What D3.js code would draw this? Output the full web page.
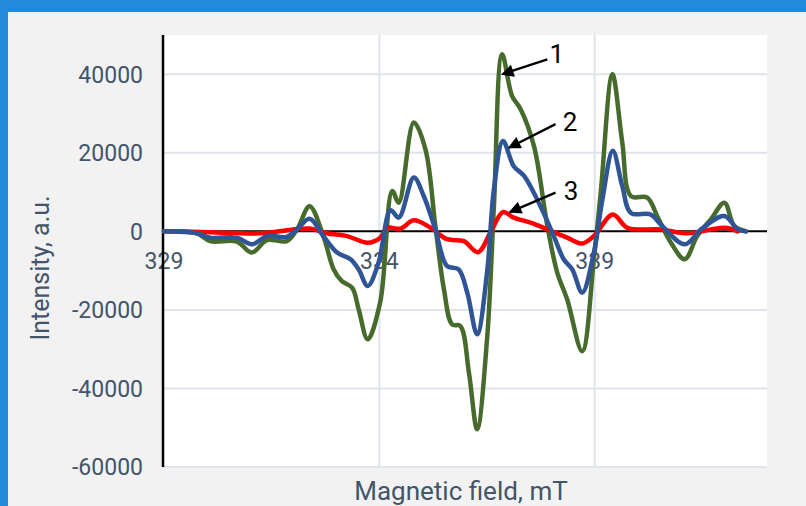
<!DOCTYPE html>
<html><head><meta charset="utf-8">
<script src="https://cdn.jsdelivr.net/npm/d3@7"></script>
<style>body{margin:0;background:#F2F2F2;}svg{display:block;font-family:Roboto,"Noto Sans",sans-serif;}</style>
</head><body><svg id="c" width="806" height="506"></svg>
<script>
// ---- data ----
const xTicks = [329, 334, 339];
const yTicks = [-60000, -40000, -20000, 0, 20000, 40000];

const fieldG = [329.00,329.76,330.07,330.69,331.04,331.39,331.85,332.09,332.38,332.70,332.94,333.13,333.37,333.52,333.73,334.02,334.30,334.45,334.80,335.07,335.30,335.50,335.69,335.88,336.08,336.27,336.50,336.66,336.85,337.08,337.28,337.59,337.90,338.13,338.36,338.71,338.98,339.14,339.41,339.64,339.84,340.22,340.45,340.77,341.09,341.38,341.70,342.01,342.24,342.51];
const intensityG = [0,-500,-2500,-2600,-5400,-2200,-2500,500,6400,-1200,-9700,-12700,-14400,-19900,-27500,-18000,10300,7300,27700,20900,1400,-14800,-23700,-24100,-36000,-50400,-27500,6400,45100,34500,31100,21700,1400,-10500,-17300,-30500,-7100,9900,40000,22600,9000,8600,3900,-2900,-7100,-1200,3100,7300,1400,0];

const fieldB = [329.00,329.76,330.07,330.69,331.04,331.39,331.85,332.09,332.38,332.70,333.02,333.33,333.52,333.73,333.98,334.26,334.45,334.80,335.03,335.30,335.57,335.84,336.04,336.27,336.50,336.66,336.87,337.12,337.36,337.74,338.05,338.28,338.48,338.71,338.98,339.18,339.42,339.64,339.84,340.30,340.53,341.09,341.47,342.01,342.32,342.51];
const intensityB = [0,-500,-1600,-1600,-3300,-1200,-1400,500,3200,-1200,-5400,-7100,-9700,-13900,-8000,5400,3500,13700,9000,500,-8800,-9700,-15600,-26200,-10500,10700,23000,16600,14100,6400,-1200,-7100,-9700,-15600,-5400,8200,20500,11500,4700,4300,1800,-3300,500,3900,500,0];

const fieldR = [329.00,330.07,331.23,332.38,332.78,333.25,333.73,334.02,334.18,334.49,334.80,335.19,335.57,335.96,336.29,336.58,336.87,337.12,337.51,337.90,338.36,338.71,338.98,339.42,339.76,340.53,341.15,342.01,342.32];
const intensityR = [0,-200,-500,700,-500,-1200,-2900,-1600,900,700,2800,900,-2000,-2500,-5300,-300,4900,3500,2200,500,-1600,-3100,-1200,4300,900,500,-500,900,0];

const labels = ["1","2","3"];
// annotation arrows: [field, intensity] of arrow tip, tail and label
const arrowTip = [[336.85,40000],[337.01,21300],[337.03,4900]];
const arrowTail = [[337.90,43800],[338.09,27300],[338.09,9860]];
const labelPos = [[338.12,45300],[338.43,28000],[338.45,10450]];

// ---- drawing ----
const svg = d3.select("#c");
const W = 806, H = 506;
svg.append("rect").attr("width", W).attr("height", H).attr("fill", "#F2F2F2");
svg.append("rect").attr("width", W).attr("height", 12).attr("fill", "#2389DB");
svg.append("rect").attr("width", 8).attr("height", H).attr("fill", "#2389DB");

const pL = 164, pR = 767, pT = 35, pB = 467;
const x = d3.scaleLinear().domain([329, 343]).range([pL, pR]);
const y = d3.scaleLinear().domain([-60000, 50000]).range([pB, pT]);

svg.append("rect").attr("x", pL).attr("y", pT).attr("width", pR - pL).attr("height", pB - pT).attr("fill", "#fff");

const grid = svg.append("g");
grid.append("g").selectAll("line").data(yTicks.filter(d => d !== 0)).join("line")
  .attr("x1", pL).attr("x2", pR).attr("y1", d => y(d)).attr("y2", d => y(d))
  .attr("stroke", "#DFE4EC").attr("stroke-width", 2);
grid.append("g").selectAll("line").data(xTicks.filter(d => d !== 329)).join("line")
  .attr("y1", pT).attr("y2", pB).attr("x1", d => x(d)).attr("x2", d => x(d))
  .attr("stroke", "#DFE4EC").attr("stroke-width", 2);

const tickColor = "#44546A";
svg.append("g").selectAll("text").data(yTicks).join("text")
  .attr("x", 143).attr("y", d => y(d)).attr("dy", "0.36em")
  .attr("text-anchor", "end").attr("font-size", 23).attr("fill", tickColor)
  .text(d => String(d));
svg.append("g").selectAll("text").data(xTicks).join("text")
  .attr("x", d => x(d)).attr("y", 269)
  .attr("text-anchor", "middle").attr("font-size", 23).attr("fill", tickColor)
  .text(d => String(d));

svg.append("line").attr("x1", pL).attr("x2", pR).attr("y1", y(0)).attr("y2", y(0)).attr("stroke", "#000").attr("stroke-width", 2);
svg.append("line").attr("x1", pL - 1).attr("x2", pL - 1).attr("y1", pT).attr("y2", pB).attr("stroke", "#000").attr("stroke-width", 2.5);

const line = d3.line().x(d => x(d[0])).y(d => y(d[1])).curve(d3.curveCatmullRom.alpha(0.5));
const series = [
  {f: fieldG, v: intensityG, c: "#476B2C"},
  {f: fieldR, v: intensityR, c: "#FF0000"},
  {f: fieldB, v: intensityB, c: "#2F5597"}
];
series.forEach(s => {
  svg.append("path").datum(s.f.map((f, i) => [f, s.v[i]]))
    .attr("d", line).attr("fill", "none").attr("stroke", s.c)
    .attr("stroke-width", 4.5).attr("stroke-linejoin", "round").attr("stroke-linecap", "round");
});

svg.append("defs").append("marker").attr("id", "ah").attr("viewBox", "0 0 10 10")
  .attr("refX", 9).attr("refY", 5).attr("markerWidth", 7.5).attr("markerHeight", 5.5)
  .attr("markerUnits", "strokeWidth").attr("orient", "auto")
  .append("path").attr("d", "M0,0L10,5L0,10z").attr("fill", "#000");
labels.forEach((t, i) => {
  svg.append("line")
    .attr("x1", x(arrowTail[i][0])).attr("y1", y(arrowTail[i][1]))
    .attr("x2", x(arrowTip[i][0])).attr("y2", y(arrowTip[i][1]))
    .attr("stroke", "#000").attr("stroke-width", 2.3).attr("marker-end", "url(#ah)");
  svg.append("text").attr("x", x(labelPos[i][0])).attr("y", y(labelPos[i][1]))
    .attr("dy", "0.36em").attr("text-anchor", "middle").attr("font-size", 26).attr("fill", "#000").text(t);
});

svg.append("text").attr("x", 461).attr("y", 500)
  .attr("text-anchor", "middle").attr("font-size", 26).attr("fill", tickColor).text("Magnetic field, mT");
svg.append("text").attr("transform", "translate(49,268) rotate(-90)")
  .attr("text-anchor", "middle").attr("font-size", 25).attr("fill", tickColor).text("Intensity, a.u.");
</script></body></html>
